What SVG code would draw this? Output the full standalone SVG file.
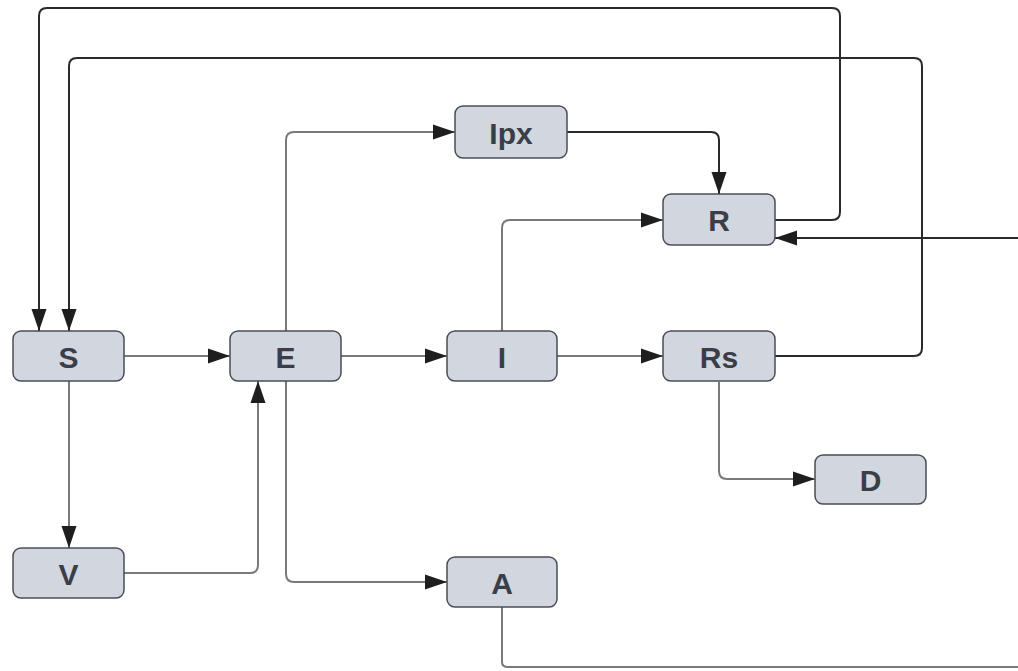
<svg xmlns="http://www.w3.org/2000/svg" width="1018" height="671" viewBox="0 0 1018 671">
<defs>
<style>
.node rect{fill:#d2d6de;stroke:#4a4d55;stroke-width:1.5}
.node text{font-family:"Liberation Sans",Arial,sans-serif;font-weight:bold;font-size:30px;fill:#3a3e48;text-anchor:middle;dominant-baseline:central}
.c{fill:none;stroke-width:2;stroke-linejoin:round}
.dark{stroke:#2a2a2a}
.gray{stroke:#7a7a7a}
</style>
<marker id="ah" markerUnits="userSpaceOnUse" markerWidth="24" markerHeight="18" refX="22" refY="9" orient="auto">
<path d="M0,1.5 L22,9 L0,16.5 Z" fill="#1e1e1e"/>
</marker>
</defs>
<rect width="1018" height="671" fill="#ffffff"/>
<g id="connectors">
<path class="c dark" d="M775,220 H832 Q840,220 840,212 V16 Q840,8 832,8 H47 Q39,8 39,16 V331" marker-end="url(#ah)"/>
<path class="c dark" d="M775,356 H914 Q922,356 922,348 V66 Q922,58 914,58 H77 Q69,58 69,66 V331" marker-end="url(#ah)"/>
<path class="c dark" d="M1018,238 H775" marker-end="url(#ah)"/>
<path class="c gray" d="M124,356 H230" marker-end="url(#ah)"/>
<path class="c gray" d="M341,356 H447" marker-end="url(#ah)"/>
<path class="c gray" d="M557,356 H663" marker-end="url(#ah)"/>
<path class="c gray" d="M69,381 V548" marker-end="url(#ah)"/>
<path class="c gray" d="M124,573 H250 Q258,573 258,565 V381" marker-end="url(#ah)"/>
<path class="c gray" d="M286,331 V140 Q286,132 294,132 H455" marker-end="url(#ah)"/>
<path class="c gray" d="M286,381 V574 Q286,582 294,582 H447" marker-end="url(#ah)"/>
<path class="c dark" d="M567,132 H711 Q719,132 719,140 V194" marker-end="url(#ah)"/>
<path class="c gray" d="M502,331 V228 Q502,220 510,220 H663" marker-end="url(#ah)"/>
<path class="c gray" d="M719,382 V471 Q719,479 727,479 H815" marker-end="url(#ah)"/>
<path class="c gray" d="M502,607 V662 Q502,667 508,667 H1018"/>
</g>
<g id="node-S" class="node"><rect x="13" y="331" width="111" height="50" rx="8"/><text x="68.5" y="357">S</text></g>
<g id="node-E" class="node"><rect x="230" y="331" width="111" height="50" rx="8"/><text x="285.5" y="357">E</text></g>
<g id="node-I" class="node"><rect x="447" y="331" width="110" height="50" rx="8"/><text x="502" y="357">I</text></g>
<g id="node-Rs" class="node"><rect x="663" y="331" width="112" height="50" rx="8"/><text x="719" y="357">Rs</text></g>
<g id="node-D" class="node"><rect x="815" y="455" width="111" height="49" rx="8"/><text x="870.5" y="480">D</text></g>
<g id="node-V" class="node"><rect x="13" y="548" width="111" height="50" rx="8"/><text x="68.5" y="574">V</text></g>
<g id="node-A" class="node"><rect x="447" y="557" width="110" height="50" rx="8"/><text x="502" y="583">A</text></g>
<g id="node-Ipx" class="node"><rect x="455" y="106" width="112" height="52" rx="8"/><text x="511" y="133">Ipx</text></g>
<g id="node-R" class="node"><rect x="663" y="194" width="112" height="51" rx="8"/><text x="719" y="220">R</text></g>
</svg>
